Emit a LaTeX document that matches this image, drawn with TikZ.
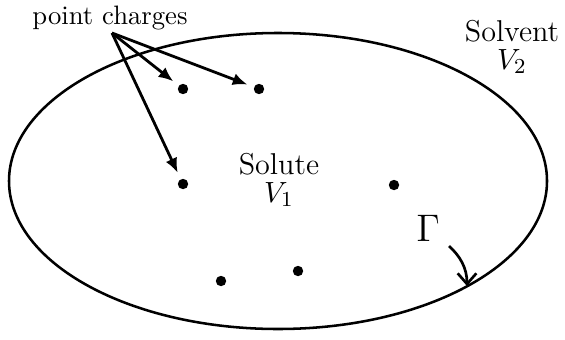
\documentclass[tikz,border=0pt]{standalone}
\usetikzlibrary{arrows.meta,shapes.geometric}
\begin{document}
\begin{tikzpicture}[x=0.375pt,y=-0.375pt,
  charge/.style={circle,fill=black,inner sep=0pt,minimum size=3.9pt},
  ptr/.style={line width=1.05pt,-{Latex[length=5.5pt,width=4.6pt]},shorten >=2.5pt},
  lbl/.style={font=\fontsize{11.3}{12.5}\selectfont,inner sep=0pt,align=center}]
\useasboundingbox (0,0) rectangle (565,339);
\node[draw,ellipse,line width=0.95pt,minimum width=538*0.375pt,minimum height=296*0.375pt,inner sep=0pt] (dom) at (278,181) {};
\node[charge] (c1) at (183,89) {};
\node[charge] (c2) at (259,89) {};
\node[charge] (c3) at (183,184) {};
\node[charge] (c4) at (394,185) {};
\node[charge] (c5) at (221,281) {};
\node[charge] (c6) at (298,271) {};
\node[font=\fontsize{10}{12}\selectfont,inner sep=0pt] (pc) at (110,18) {point charges};
\coordinate (o) at (112,33);
\draw[ptr] (o) -- (c1);
\draw[ptr] (o) -- (c2);
\draw[ptr] (o) -- (c3);
\node[lbl] (solute) at (279,180) {Solute\\[-2pt]$V_1$};
\node[lbl] (solvent) at (512,47) {Solvent\\[-2pt]$V_2$};
\node[font=\fontsize{14.8}{16}\selectfont,inner sep=0pt] (g) at (428,228) {$\Gamma$};
\coordinate (gs) at (449,246);
\coordinate (ge) at (467,286);
\draw[line width=1pt,-{Straight Barb[length=4pt,width=7pt]}] (gs) .. controls (460,256) and (467,268) .. (ge);
\end{tikzpicture}
\end{document}
